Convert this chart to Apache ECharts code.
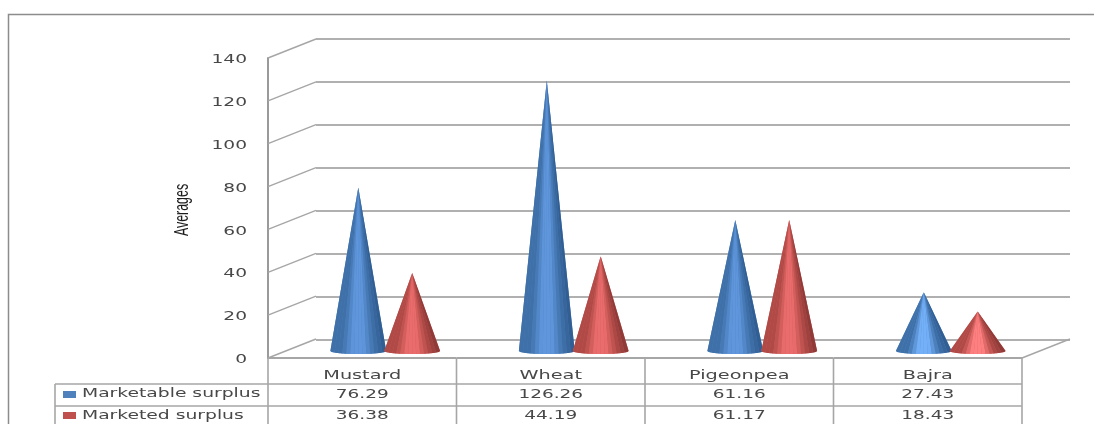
<!DOCTYPE html>
<html><head><meta charset="utf-8">
<style>html,body{margin:0;padding:0;background:#fff}#c{width:1094px;height:424px;filter:blur(0.5px)}</style>
<script src="https://cdn.jsdelivr.net/npm/echarts@6/dist/echarts.min.js"></script>
</head><body><div id="c"></div>
<script>
var categories = ['Mustard', 'Wheat', 'Pigeonpea', 'Bajra'];
var marketable = [76.29, 126.26, 61.16, 27.43];
var marketed = [36.38, 44.19, 61.17, 18.43];
var seriesNames = ['Marketable surplus', 'Marketed surplus'];
var tickValues = [0, 20, 40, 60, 80, 100, 120, 140];
var yTitle = 'Averages';

var GREY = '#a6a6a6', TEXT = '#484848', FONT = '"DejaVu Sans"';
var DEPTH = [48, -19];
var chart = echarts.init(document.getElementById('c'), null, {renderer: 'canvas'});

function stretched(x, y, text, size, sx, align) {
  return {type: 'text', x: x, y: y, scaleX: sx, silent: true,
    style: {x: 0, y: 0, text: text, fill: TEXT, font: size + 'px ' + FONT, align: align || 'center', verticalAlign: 'middle'}};
}
function seg(x1, y1, x2, y2, w) {
  return {type: 'line', silent: true, shape: {x1: x1, y1: y1, x2: x2, y2: y2}, style: {stroke: GREY, lineWidth: w || 1.6}};
}
function cone(shift, edge, mid, edge2, brightMid) {
  return function (params, api) {
    var base = api.coord([api.value(0), 0]);
    var top = api.coord([api.value(0), api.value(1)]);
    var band = api.size([1, 0])[0];
    var cx = base[0] + band * shift, hw = band * 0.148, ry = 3, N = 14;
    var m = api.value(1) < 30 ? brightMid : mid;
    var ramp = [edge, edge, m, m, edge, edge2];
    function rim(t) {
      var u = 2 * t - 1;
      return [cx + hw * u, base[1] + ry * Math.sqrt(Math.max(0, 1 - u * u))];
    }
    var outline = [[cx, top[1]]];
    for (var j = 0; j <= 40; j++) outline.push(rim(j / 40));
    var kids = [{type: 'polygon', shape: {points: outline}, style: {fill: echarts.color.lerp(0.5, [edge, m])}}];
    for (var k = 0; k < N; k++) {
      var pts = [[cx, top[1]]];
      for (var s = 0; s <= 3; s++) pts.push(rim((k + s / 3) / N));
      kids.push({type: 'polygon', shape: {points: pts},
        style: {fill: echarts.color.lerp((k + 0.5) / N, ramp)}});
    }
    return {type: 'group', children: kids};
  };
}
function valueData(arr) { return arr.map(function (v, i) { return [i, v]; }); }

function renderScaffold(params, api) {
  var v = api.value(0), band = api.size([1, 0])[0];
  var p = api.coord([0, v]), x = p[0] - band / 2;
  return {type: 'group', children: [
    seg(x, p[1], x + DEPTH[0], p[1] + DEPTH[1], 1.4),
    stretched(x - 21, p[1] + 2, String(v), 12, 1.55, 'right')
  ]};
}
function renderTable(params, api) {
  var i = api.value(0), band = api.size([1, 0])[0];
  var c = api.coord([i, 0]), l = c[0] - band / 2, r = c[0] + band / 2, y0 = c[1];
  var kids = [
    seg(r, y0, r, 424),
    seg(l, y0, r, y0, 2),
    seg(l, y0 + 26, r, y0 + 26),
    seg(l, y0 + 48, r, y0 + 48),
    stretched(c[0], y0 + 18, categories[i], 13, 1.48),
    stretched(c[0], y0 + 37, marketable[i].toFixed(2), 13, 1.42),
    stretched(c[0], y0 + 58, marketed[i].toFixed(2), 13, 1.42)
  ];
  if (i === 0) {
    var lx = l - 213;
    kids.push(seg(l, y0, l, 424), seg(lx, y0 + 26, lx, 424), seg(lx, y0 + 26, l, y0 + 26), seg(lx, y0 + 48, l, y0 + 48));
    kids.push({type: 'rect', silent: true, shape: {x: lx + 8, y: y0 + 33, width: 13, height: 7}, style: {fill: '#4f81bd'}});
    kids.push({type: 'rect', silent: true, shape: {x: lx + 8, y: y0 + 54, width: 13, height: 7}, style: {fill: '#c0504d'}});
    kids.push(stretched(lx + 27, y0 + 36, seriesNames[0], 13, 1.44, 'left'));
    kids.push(stretched(lx + 27, y0 + 58, seriesNames[1], 13, 1.44, 'left'));
    kids.push({type: 'text', x: l - 86, y: (api.coord([0, 140])[1] + y0) / 2 + 2, rotation: Math.PI / 2, scaleX: 0.62, silent: true,
      style: {x: 0, y: 0, text: yTitle, fill: '#1c1c1c', font: '20px "Liberation Sans"', align: 'center', verticalAlign: 'middle'}});
  }
  if (i === categories.length - 1) {
    kids.push(seg(r, y0, r + DEPTH[0], y0 + DEPTH[1], 1.4));
  }
  return {type: 'group', children: kids};
}

var hiddenX = {type: 'category', data: categories, axisLine: {show: false}, axisTick: {show: false}, axisLabel: {show: false}};
var option = {
  animation: false,
  backgroundColor: '#fff',
  graphic: [
    {type: 'polyline', silent: true, shape: {points: [[8.5, 424], [8.5, 14.5], [1094, 14.5]]}, style: {fill: 'none', stroke: '#8c8c8c', lineWidth: 1.5}}
  ],
  grid: [
    {left: 268, top: 58, width: 754, height: 300},
    {left: 316, top: 39, width: 754, height: 301},
    {left: 291, top: 51, width: 754, height: 300}
  ],
  xAxis: [
    Object.assign({gridIndex: 0}, hiddenX),
    Object.assign({gridIndex: 1}, hiddenX),
    Object.assign({gridIndex: 2}, hiddenX)
  ],
  yAxis: [
    {gridIndex: 0, type: 'value', min: 0, max: 140, interval: 20, splitLine: {show: false},
     axisLine: {show: true, lineStyle: {color: '#9a9a9a', width: 2}}, axisTick: {show: false}, axisLabel: {show: false}},
    {gridIndex: 1, type: 'value', min: 0, max: 140, interval: 20, axisLine: {show: false}, axisTick: {show: false}, axisLabel: {show: false},
     splitLine: {show: true, lineStyle: {color: '#b0b0b0', width: 1.8}}},
    {gridIndex: 2, type: 'value', min: 0, max: 140, interval: 20, show: false, splitLine: {show: false}}
  ],
  series: [
    {type: 'custom', name: 'axis', xAxisIndex: 0, yAxisIndex: 0, clip: false, silent: true, z: 1,
     data: tickValues.map(function (t) { return [t]; }), encode: {y: 0}, renderItem: renderScaffold},
    {type: 'custom', name: 'table', xAxisIndex: 0, yAxisIndex: 0, clip: false, silent: true, z: 1,
     data: categories.map(function (c, i) { return [i]; }), encode: {x: 0}, renderItem: renderTable},
    {type: 'custom', name: seriesNames[0], xAxisIndex: 2, yAxisIndex: 2, clip: false, z: 3,
     data: valueData(marketable), encode: {x: 0, y: 1}, renderItem: cone(-0.143, '#3f70a8', '#5f96dc', '#2f5b8e', '#74b0f8')},
    {type: 'custom', name: seriesNames[1], xAxisIndex: 2, yAxisIndex: 2, clip: false, z: 4,
     data: valueData(marketed), encode: {x: 0, y: 1}, renderItem: cone(0.143, '#b04a47', '#ea6c6c', '#8a3836', '#ff8080')}
  ]
};
chart.setOption(option);
</script></body></html>
